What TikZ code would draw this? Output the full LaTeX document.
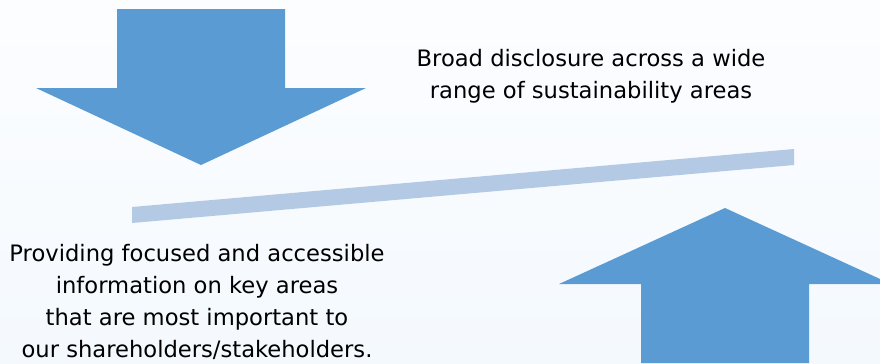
\documentclass[tikz,border=0pt]{standalone}
\usepackage{fontspec}
\setmainfont{DejaVu Sans}
\definecolor{bgtop}{RGB}{252,253,255}
\definecolor{bgbottom}{RGB}{244,249,254}
\definecolor{arrowblue}{RGB}{91,155,211}
\definecolor{beamblue}{RGB}{180,201,228}
\tikzset{
    label text/.style={align=center,text=black,font=\fontsize{16.1}{22.7}\selectfont},
    big arrow/.style={fill=arrowblue,draw=none},
}

\begin{document}
\begin{tikzpicture}[x=0.025cm,y=-0.025cm]
            % background
            \useasboundingbox (0,0) rectangle (880,363);
            \shade[top color=bgtop,bottom color=bgbottom] (0,0) rectangle (880,363);
            \clip (0,0) rectangle (880,363);
            % arrows pressing on the beam
            \fill[big arrow] (117,9)--(285,9)--(285,88)--(366,88)--(201,165)--(36,88)--(117,88)--cycle;
            \fill[big arrow] (641,363)--(641,284)--(559,284)--(725,208)--(891,284)--(809,284)--(809,363)--cycle;
            % tilted beam
            \fill[beamblue] (132,207)--(794,149)--(794,165)--(132,223)--cycle;
            \node[label text] (broad) at (591,76) {Broad disclosure across a wide\\range of sustainability areas};
            \node[label text] (focused) at (197,302) {Providing focused and accessible\\information on key areas\\that are most important to\\our shareholders/stakeholders.};
        \end{tikzpicture}
\end{document}
